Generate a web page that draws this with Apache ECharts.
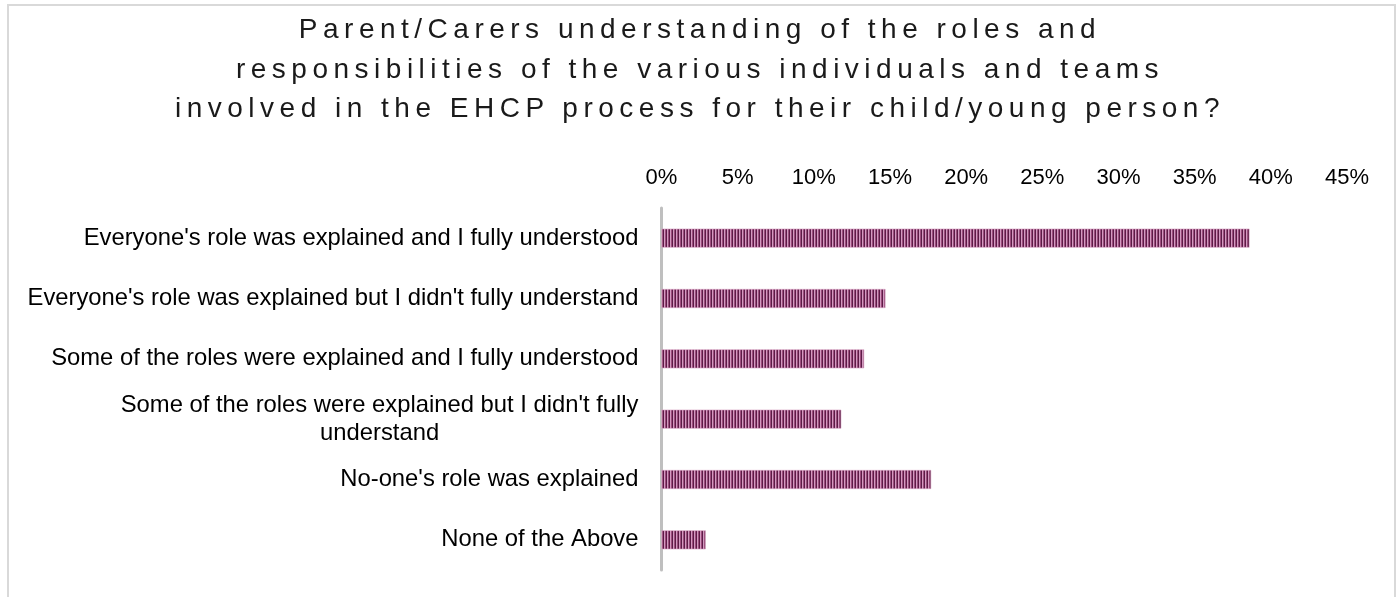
<!DOCTYPE html>
<html>
<head>
<meta charset="utf-8">
<script src="https://cdn.jsdelivr.net/npm/echarts@6/dist/echarts.min.js"></script>
<style>
  html, body { margin: 0; padding: 0; background: #ffffff; }
  #wrap { position: relative; width: 1400px; height: 597px; overflow: hidden; }
  #chart { position: absolute; left: 0; top: 0; width: 1400px; height: 597px; }
  #title { position: absolute; left: 0; top: 9px; width: 1400px; text-align: center;
           font-family: "Liberation Sans", Arial, sans-serif; font-size: 28px; line-height: 39.5px;
           letter-spacing: 5.5px; color: #1a1a1a; pointer-events: none; }
</style>
</head>
<body>
<div id="wrap">
  <div id="chart"></div>
  <div id="title"></div>
</div>
<script>
const titleLines = [
  "Parent/Carers understanding of the roles and",
  "responsibilities of the various individuals and teams",
  "involved in the EHCP process for their child/young person?"
];
const categories = [
  "Everyone's role was explained and I fully understood",
  "Everyone's role was explained but I didn't fully understand",
  "Some of the roles were explained and I fully understood",
  "Some of the roles were explained but I didn't fully understand",
  "No-one's role was explained",
  "None of the Above"
];
const values = [0.386, 0.147, 0.133, 0.118, 0.177, 0.029];
const axisMin = 0, axisMax = 0.45, axisStep = 0.05;

document.getElementById('title').innerHTML = titleLines.map(t => t.replace(/&/g,'&amp;').replace(/</g,'&lt;')).join('<br>');

// striped pattern for bars
const pat = document.createElement('canvas');
pat.width = 3; pat.height = 4;
const pc = pat.getContext('2d');
const stripe = ['#5c1b46', '#d39ac0', '#9c4d7d'];
stripe.forEach((c, i) => { pc.fillStyle = c; pc.fillRect(i, 0, 1, 4); });

function wrapLabel(v) {
  if (v.length > 60) {
    const i = v.lastIndexOf(' ');
    return v.slice(0, i) + '\n' + v.slice(i + 1);
  }
  return v;
}

const chart = echarts.init(document.getElementById('chart'), null, { renderer: 'canvas' });
chart.setOption({
  animation: false,
  backgroundColor: '#ffffff',
  graphic: [{
    type: 'rect', shape: { x: 8, y: 5, width: 1387, height: 620 },
    style: { fill: 'none', stroke: '#d9d9d9', lineWidth: 2 }, silent: true
  }],
  grid: { left: 661.5, right: 53, top: 208, bottom: 27, containLabel: false },
  xAxis: {
    type: 'value', position: 'top', min: axisMin, max: axisMax, interval: axisStep,
    axisLine: { show: false }, axisTick: { show: false }, splitLine: { show: false },
    axisLabel: {
      margin: 19, color: '#000000', fontSize: 22, fontFamily: '"Liberation Sans", Arial, sans-serif',
      formatter: v => Math.round(v * 100) + '%'
    }
  },
  yAxis: {
    type: 'category', data: categories, inverse: true,
    axisLine: { show: true, lineStyle: { color: '#bfbfbf', width: 3 } },
    axisTick: { show: false },
    axisLabel: {
      margin: 23,
      formatter: v => '{c|' + wrapLabel(v) + '}',
      rich: {
        c: { align: 'center', fontSize: 23.8, lineHeight: 28, color: '#000000',
             fontFamily: '"Liberation Sans", Arial, sans-serif' }
      }
    }
  },
  series: [{
    type: 'bar', data: values, barWidth: 19,
    itemStyle: { color: { image: pat, repeat: 'repeat' }, borderColor: '#d7a3c3', borderWidth: 0.6 }
  }]
});
</script>
</body>
</html>
